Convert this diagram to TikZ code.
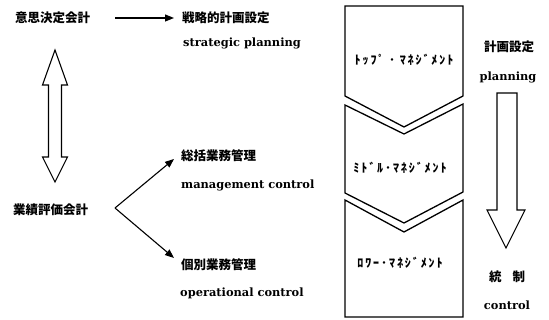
\documentclass[tikz,border=0pt]{standalone}
\usepackage{fontspec}
\newfontfamily\jp{Noto Sans CJK JP}
\newfontfamily\en{DejaVu Serif}
\usetikzlibrary{arrows.meta}
\tikzset{
  jtxt/.style={font=\jp\bfseries\fontsize{12.5}{14}\selectfont, inner sep=0pt, anchor=west},
  etxt/.style={font=\en\bfseries\fontsize{11.4}{13}\selectfont, inner sep=0pt, anchor=west},
  ktxt/.style={font=\jp\bfseries\fontsize{12}{14}\selectfont\addfontfeature{LetterSpace=16}, inner sep=0pt},
  box/.style={draw, line width=1.3pt, line join=miter, fill=white},
  hollow/.style={draw, line width=1.1pt, fill=white, line join=miter},
  conn/.style={line width=1.1pt, -{Triangle[length=9pt,width=7pt]}},
}
\begin{document}
\begin{tikzpicture}[x=1pt,y=-1pt]
\useasboundingbox (0,0) rectangle (549,320);
% left texts
\node[jtxt] (dec) at (15,18) {意思決定会計};
\node[jtxt] (strat) at (182,18) {戦略的計画設定};
\node[etxt] (strate) at (183,43) {strategic planning};
\node[jtxt] (eval) at (13,210) {業績評価会計};
\node[jtxt] (mgmt) at (181,156) {総括業務管理};
\node[etxt] (mgmte) at (181,185) {management control};
\node[jtxt] (oper) at (181,265) {個別業務管理};
\node[etxt] (opere) at (180,293) {operational control};
% arrows
\coordinate (a0) at (115,18);
\coordinate (a1) at (174,18);
\draw[conn] (a0) -- (a1);
\coordinate (b0) at (115,208);
\coordinate (t1) at (174,159);
\coordinate (t2) at (174,258);
\draw[conn] (b0) -- (t1);
\draw[conn] (b0) -- (t2);
% double hollow arrow
\draw[hollow] (55,50) -- (67.5,85) -- (61.5,85) -- (61.5,157) -- (67.5,157) -- (55,182)
  -- (42.5,157) -- (48.5,157) -- (48.5,85) -- (42.5,85) -- cycle;
% chevron boxes
\draw[box] (345,6) -- (463,6) -- (463,96) -- (404,127) -- (345,96) -- cycle;
\draw[box] (345,105) -- (404,134) -- (463,104) -- (463,192) -- (404,223) -- (345,193) -- cycle;
\draw[box] (345,200) -- (404,232) -- (463,200) -- (463,317) -- (345,317) -- cycle;
\node[ktxt] (top) at (404,60) {ﾄｯﾌﾟ ･ ﾏﾈｼﾞﾒﾝﾄ};
\node[ktxt] (mid) at (400,168) {ﾐﾄﾞﾙ･ﾏﾈｼﾞﾒﾝﾄ};
\node[ktxt] (low) at (400,263) {ﾛﾜｰ･ﾏﾈｼﾞﾒﾝﾄ};
% right side
\node[jtxt, anchor=center] (plan) at (509,47) {計画設定};
\node[etxt, anchor=center] (plane) at (508,77) {planning};
\draw[hollow] (497,93) -- (517,93) -- (517,210) -- (525,210) -- (506,248) -- (487,210) -- (497,210) -- cycle;
\node[jtxt, anchor=center] (ctl) at (507,277) {統\hspace{11pt}制};
\node[etxt, anchor=center] (ctle) at (507,305) {control};
\end{tikzpicture}
\end{document}
